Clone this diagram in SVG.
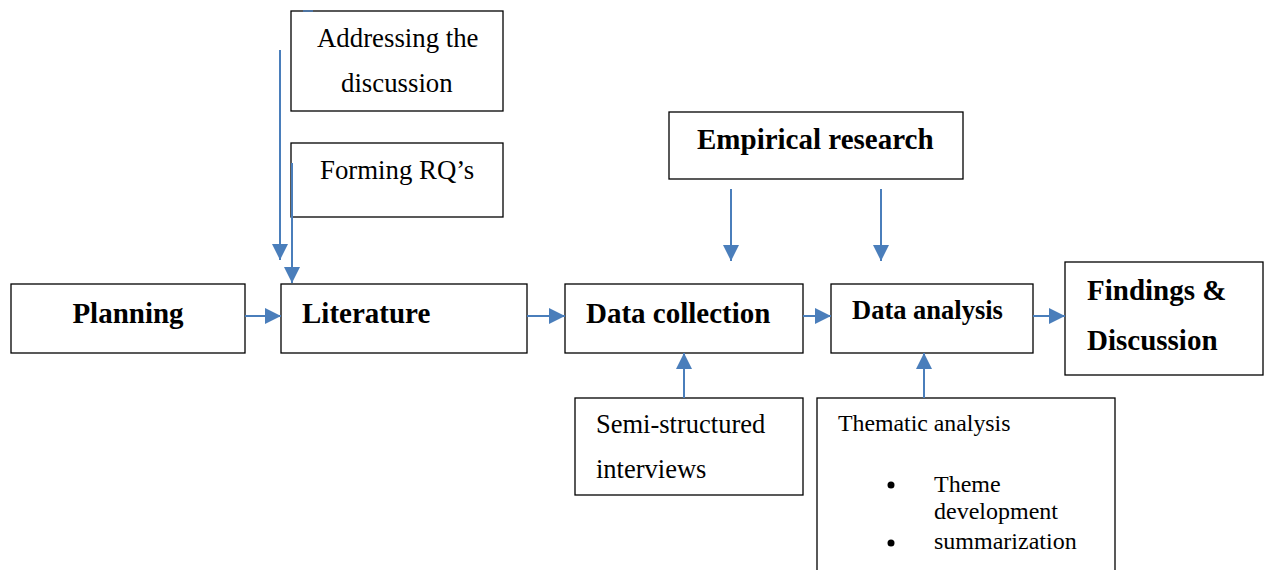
<svg xmlns="http://www.w3.org/2000/svg" width="1266" height="570" viewBox="0 0 1266 570">
<defs>
<marker id="ahL" viewBox="0 0 10 10" refX="10" refY="5" markerWidth="16" markerHeight="16" markerUnits="userSpaceOnUse" orient="auto">
<path d="M0,0 L10,5 L0,10 z" fill="#4a7ebb"/>
</marker>
<style>
.box{fill:#fff;stroke:#000;stroke-width:1.3}
.t{font-family:"Liberation Serif","Times New Roman",serif;fill:#000}
.b{font-weight:bold}
.c{stroke:#4a7ebb;stroke-width:2;fill:none;marker-end:url(#ahL)}
</style>
</defs>
<rect width="1266" height="570" fill="#fff"/>
<g id="addressing"><rect class="box" x="291" y="11" width="212" height="100"/>
<text class="t" x="317" y="47" font-size="26.8">Addressing the</text>
<text class="t" x="341" y="92" font-size="26.8">discussion</text></g>
<g id="forming"><rect class="box" x="291" y="143" width="212" height="74"/>
<text class="t" x="320" y="179" font-size="26.8">Forming RQ’s</text></g>
<g id="planning"><rect class="box" x="11" y="284" width="234" height="69"/>
<text class="t b" x="128" y="323" font-size="29" text-anchor="middle">Planning</text></g>
<g id="literature"><rect class="box" x="281" y="284" width="246" height="69"/>
<text class="t b" x="302" y="323" font-size="29">Literature</text></g>
<g id="datacollection"><rect class="box" x="565" y="284" width="238" height="69"/>
<text class="t b" x="586" y="323" font-size="29">Data collection</text></g>
<g id="dataanalysis"><rect class="box" x="831" y="284" width="202" height="69"/>
<text class="t b" x="852" y="319" font-size="26.5">Data analysis</text></g>
<g id="findings"><rect class="box" x="1065" y="262" width="198" height="113"/>
<text class="t b" x="1087" y="300" font-size="29">Findings &amp;</text>
<text class="t b" x="1087" y="350" font-size="29">Discussion</text></g>
<g id="empirical"><rect class="box" x="669" y="112" width="294" height="67"/>
<text class="t b" x="697" y="149" font-size="29">Empirical research</text></g>
<g id="semistructured"><rect class="box" x="575" y="398" width="228" height="97"/>
<text class="t" x="596" y="433" font-size="26.5">Semi-structured</text>
<text class="t" x="596" y="478" font-size="26.5">interviews</text></g>
<g id="thematic"><rect class="box" x="817" y="398" width="298" height="180"/>
<text class="t" x="838" y="431" font-size="23.8">Thematic analysis</text>
<circle cx="891" cy="485" r="3.5" fill="#000"/>
<circle cx="891" cy="543" r="3.5" fill="#000"/>
<text class="t" x="934" y="492" font-size="24">Theme</text>
<text class="t" x="934" y="519" font-size="24">development</text>
<text class="t" x="934" y="549" font-size="24">summarization</text></g>
<g id="connectors">
<line x1="303" y1="11" x2="313" y2="11" stroke="#4a7ebb" stroke-width="1.5"/>
<line class="c" x1="280" y1="50" x2="280" y2="260"/>
<line class="c" x1="292" y1="163" x2="292" y2="283"/>
<line class="c" x1="245" y1="316" x2="281" y2="316"/>
<line class="c" x1="527" y1="316" x2="565" y2="316"/>
<line class="c" x1="803" y1="316" x2="831" y2="316"/>
<line class="c" x1="1033" y1="316" x2="1065" y2="316"/>
<line class="c" x1="731" y1="189" x2="731" y2="261"/>
<line class="c" x1="881" y1="189" x2="881" y2="261"/>
<line class="c" x1="684" y1="398" x2="684" y2="353"/>
<line class="c" x1="924" y1="398" x2="924" y2="353"/>
</g>
</svg>
